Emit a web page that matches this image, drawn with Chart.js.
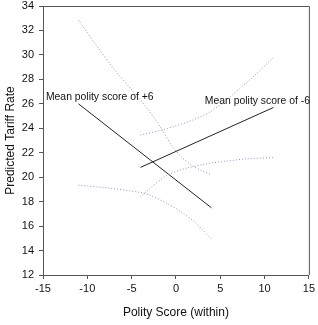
<!DOCTYPE html>
<html>
<head>
<meta charset="utf-8">
<script src="https://cdn.jsdelivr.net/npm/chart.js@4/dist/chart.umd.min.js"></script>
<style>
html,body{margin:0;padding:0;background:#fff;}
#wrap{width:318px;height:325px;position:relative;}
</style>
</head>
<body>
<div id="wrap"><canvas id="c" width="318" height="325"></canvas></div>
<script>
// Fitted lines
const pos6LineX = [-11, 4];
const pos6LineY = [26.0, 17.5];
const neg6LineX = [-4, 11];
const neg6LineY = [20.8, 25.7];
// Confidence bands (+6)
const pos6UpperX = [-11, -9, -7, -5, -3, -1.5, -0.5, 0.5, 1.7, 3, 4];
const pos6UpperY = [32.85, 30.8, 28.85, 27.15, 25.4, 23.8, 22.6, 21.75, 21.0, 20.5, 20.2];
const pos6LowerX = [-11, -7.5, -4, -3, -1, 0.5, 2, 3, 4];
const pos6LowerY = [19.35, 19.1, 18.75, 18.55, 17.85, 17.2, 16.4, 15.7, 14.95];
// Confidence bands (-6)
const neg6UpperX = [-4, -1.6, 0, 2, 4, 6, 8.7, 11];
const neg6UpperY = [23.45, 23.85, 24.2, 24.7, 25.4, 26.5, 28.2, 29.8];
const neg6LowerX = [-4, -2.75, -1, 1, 3.5, 5.5, 8, 11];
const neg6LowerY = [18.4, 19.2, 20.15, 20.7, 21.1, 21.3, 21.5, 21.6];
// Labels
const labelTexts = ["Mean polity score of +6", "Mean polity score of -6"];
const labelX = [-14.67, 3.26];
const labelY = [26.58, 26.25];
const xTitle = "Polity Score (within)";
const yTitle = "Predicted Tariff Rate";

const pts = (xs, ys) => xs.map((x, i) => ({x: x, y: ys[i]}));
const FONT = "'Liberation Sans', Arial, sans-serif";
const dotColor = '#8e8ed4';

const band = (xs, ys) => ({
  data: pts(xs, ys), showLine: true, borderColor: dotColor, borderWidth: 1,
  borderDash: [1, 2], pointRadius: 0, tension: 0.3, fill: false
});
const solid = (xs, ys) => ({
  data: pts(xs, ys), showLine: true, borderColor: '#222', borderWidth: 1,
  pointRadius: 0, tension: 0, fill: false
});

const framePlugin = {
  id: 'frame',
  afterDraw(chart) {
    const {ctx, chartArea: a, scales} = chart;
    ctx.save();
    ctx.strokeStyle = '#555';
    ctx.lineWidth = 1;
    ctx.beginPath();
    ctx.moveTo(a.left, a.top + 0.5);
    ctx.lineTo(a.right + 0.5, a.top + 0.5);
    ctx.lineTo(a.right + 0.5, a.bottom);
    ctx.stroke();
    ctx.fillStyle = '#111';
    ctx.font = '10.4px ' + FONT;
    ctx.textBaseline = 'middle';
    ctx.textAlign = 'left';
    labelTexts.forEach((t, i) => {
      ctx.fillText(t, scales.x.getPixelForValue(labelX[i]), scales.y.getPixelForValue(labelY[i]));
    });
    ctx.restore();
  }
};

new Chart(document.getElementById('c'), {
  type: 'scatter',
  data: {
    datasets: [
      band(pos6UpperX, pos6UpperY),
      band(pos6LowerX, pos6LowerY),
      band(neg6UpperX, neg6UpperY),
      band(neg6LowerX, neg6LowerY),
      solid(pos6LineX, pos6LineY),
      solid(neg6LineX, neg6LineY)
    ]
  },
  options: {
    responsive: false,
    animation: false,
    layout: {padding: {left: 0, right: 5, top: 0, bottom: 0}},
    plugins: {legend: {display: false}, tooltip: {enabled: false}},
    scales: {
      x: {
        type: 'linear', min: -15, max: 15,
        afterFit(s) { s.height = 50; },
        ticks: {stepSize: 5, color: '#111', font: {family: FONT, size: 11}, padding: 3},
        grid: {drawOnChartArea: false, drawTicks: true, tickLength: 4, color: '#555'},
        border: {display: true, color: '#555', width: 1},
        title: {display: true, text: xTitle, color: '#111', font: {family: FONT, size: 12}, padding: {top: 4, bottom: 5}}
      },
      y: {
        type: 'linear', min: 12, max: 34,
        afterFit(s) { s.width = 43; s.paddingTop = 6; s.paddingBottom = 0; },
        ticks: {stepSize: 2, color: '#111', font: {family: FONT, size: 11}, padding: 5},
        grid: {drawOnChartArea: false, drawTicks: true, tickLength: 4, color: '#555'},
        border: {display: true, color: '#555', width: 1},
        title: {display: true, text: yTitle, color: '#111', font: {family: FONT, size: 12}, padding: {top: 3, bottom: 2}}
      }
    }
  },
  plugins: [framePlugin]
});
</script>
</body>
</html>
